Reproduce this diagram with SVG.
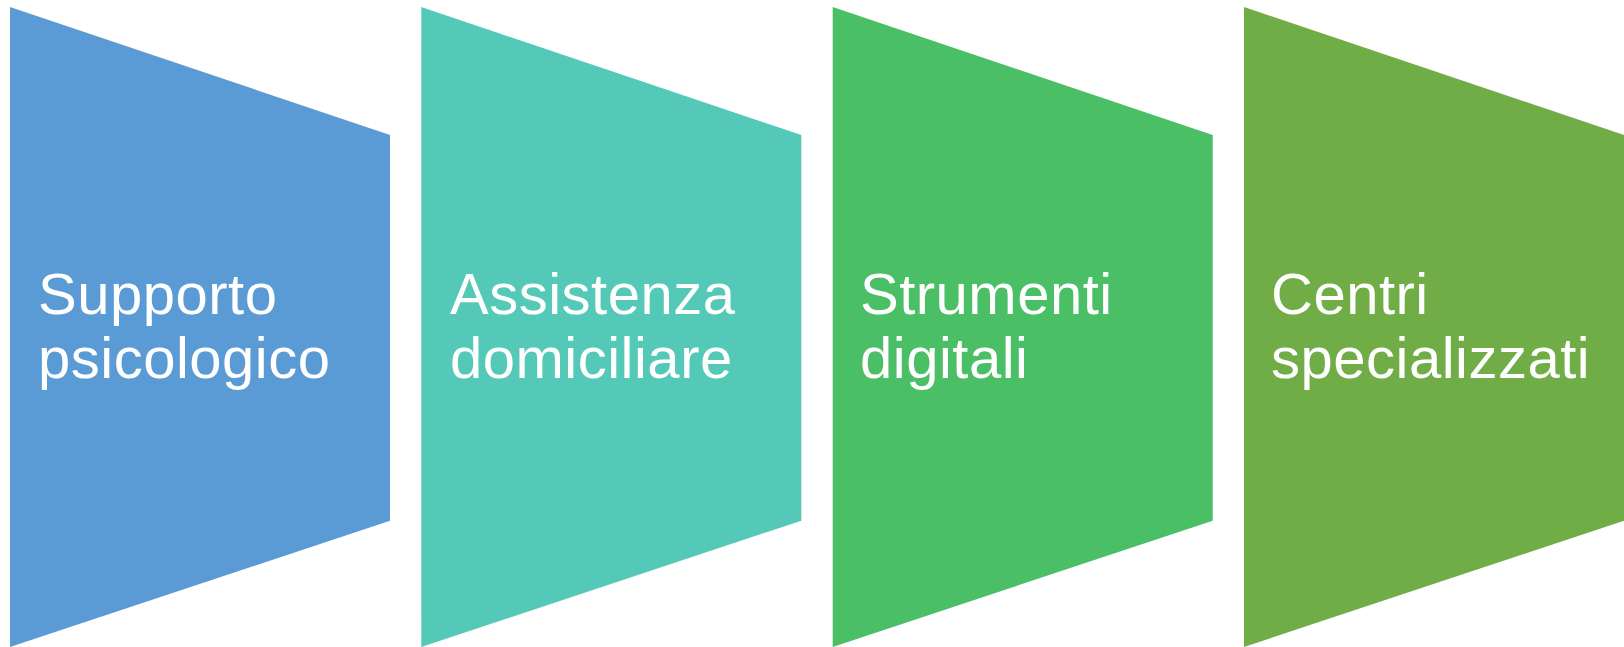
<svg xmlns="http://www.w3.org/2000/svg" width="1624" height="647" viewBox="0 0 1624 647">
<style>
.lbl{font-family:"Liberation Sans",Arial,sans-serif;font-size:58px;letter-spacing:0.5px;fill:#ffffff}
</style>
<rect width="1624" height="647" fill="#ffffff"/>
<g id="node1">
<polygon points="10,7 390,135 390,520.7 10,647" fill="#5B9BD5"/>
<text class="lbl" x="38" y="314">Supporto</text>
<text class="lbl" x="38" y="378">psicologico</text>
</g>
<g id="node2">
<polygon points="421.3,7 801.3,135 801.3,520.7 421.3,647" fill="#54C9B7"/>
<text class="lbl" x="450" y="314">Assistenza</text>
<text class="lbl" x="450" y="378">domiciliare</text>
</g>
<g id="node3">
<polygon points="832.7,7 1212.7,135 1212.7,520.7 832.7,647" fill="#4ABF66"/>
<text class="lbl" x="860" y="314">Strumenti</text>
<text class="lbl" x="860" y="378">digitali</text>
</g>
<g id="node4">
<polygon points="1244,7 1624,135 1624,520.7 1244,647" fill="#70AD47"/>
<text class="lbl" x="1271" y="314">Centri</text>
<text class="lbl" x="1271" y="378">specializzati</text>
</g>
<g id="connectors"></g>
</svg>
